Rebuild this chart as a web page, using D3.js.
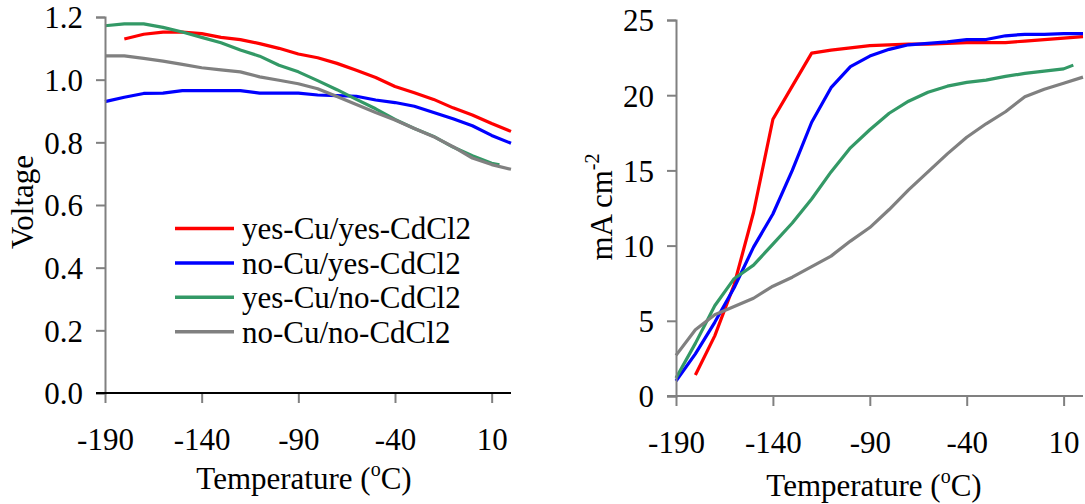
<!DOCTYPE html>
<html><head><meta charset="utf-8">
<script src="https://cdn.jsdelivr.net/npm/d3@7/dist/d3.min.js"></script>
<style>body{margin:0;background:#fff}svg{display:block}svg text{font-family:"Liberation Serif","Times New Roman",serif !important;fill:#000}</style>
</head><body><svg id="c" width="1085" height="504"></svg>
<script>
// ---- data ----
const seriesNames = ["yes-Cu/yes-CdCl2","no-Cu/yes-CdCl2","yes-Cu/no-CdCl2","no-Cu/no-CdCl2"];
const seriesColors = ["#FF0000","#0000FF","#339966","#808080"];
const xTicks = [-190,-140,-90,-40,10];
const vTicks = [0,0.2,0.4,0.6,0.8,1.0,1.2];
const jTicks = [0,5,10,15,20,25];

// Voltage vs temperature
const tRedV   = [-180,-170,-160,-150,-140,-130,-120,-110,-100,-90,-80,-70,-60,-50,-40,-30,-20,-10,0,10,20];
const vRed    = [1.130,1.145,1.152,1.152,1.147,1.135,1.128,1.115,1.100,1.082,1.070,1.052,1.030,1.007,0.978,0.958,0.937,0.910,0.887,0.860,0.835];
const tBlueV  = [-190,-180,-170,-160,-150,-140,-130,-120,-110,-100,-90,-80,-70,-60,-50,-40,-30,-20,-10,0,10,20];
const vBlue   = [0.930,0.944,0.956,0.957,0.965,0.965,0.965,0.965,0.957,0.957,0.957,0.951,0.949,0.947,0.935,0.927,0.915,0.895,0.875,0.853,0.822,0.797];
const tGreenV = [-190,-180,-170,-160,-150,-140,-130,-120,-110,-100,-90,-80,-70,-60,-50,-40,-30,-20,-10,0,10,14];
const vGreen  = [1.172,1.178,1.178,1.167,1.152,1.135,1.118,1.095,1.075,1.046,1.025,0.997,0.968,0.937,0.907,0.873,0.844,0.819,0.785,0.757,0.733,0.728];
const tGrayV  = [-190,-180,-170,-160,-150,-140,-130,-120,-110,-100,-90,-80,-70,-60,-50,-40,-30,-20,-10,0,10,20];
const vGray   = [1.076,1.076,1.068,1.059,1.049,1.038,1.031,1.025,1.009,0.998,0.987,0.971,0.946,0.921,0.895,0.871,0.844,0.818,0.786,0.750,0.729,0.714];

// Current density vs temperature
const tRedJ   = [-180,-170,-160,-150,-140,-130,-120,-110,-100,-90,-80,-70,-60,-50,-40,-30,-20,-10,0,10,20];
const jRed    = [1.4,4.0,7.4,12.2,18.4,20.6,22.8,23.0,23.15,23.3,23.35,23.4,23.4,23.45,23.5,23.5,23.5,23.6,23.7,23.8,23.9];
const tBlueJ  = [-190,-180,-170,-160,-150,-140,-130,-120,-110,-100,-90,-80,-70,-60,-50,-40,-30,-20,-10,0,10,20];
const jBlue   = [1.0,2.8,4.9,7.2,9.9,12.1,15.0,18.2,20.5,21.9,22.6,23.05,23.35,23.45,23.55,23.7,23.7,23.95,24.05,24.05,24.1,24.1];
const tGreenJ = [-190,-180,-170,-160,-150,-140,-130,-120,-110,-100,-90,-80,-70,-60,-50,-40,-30,-20,-10,0,10,15];
const jGreen  = [1.2,3.5,6.0,7.8,8.7,10.1,11.5,13.1,14.9,16.5,17.7,18.8,19.6,20.2,20.6,20.85,21.0,21.25,21.45,21.6,21.75,22.0];
const tGrayJ  = [-190,-180,-170,-160,-150,-140,-130,-120,-110,-100,-90,-80,-70,-60,-50,-40,-30,-20,-10,0,10,20];
const jGray   = [2.7,4.4,5.4,5.95,6.5,7.3,7.9,8.6,9.3,10.3,11.2,12.4,13.7,14.9,16.1,17.2,18.1,18.9,19.9,20.4,20.8,21.2];

const svg = d3.select("#c");
const FS = 31, FF = "Liberation Serif";

function panel(o){
  const g = svg.append("g");
  const x = d3.scaleLinear().domain([-190,20]).range(o.xr);
  const y = d3.scaleLinear().domain(o.yd).range(o.yr);
  const line = d3.line().x(d=>x(d[0])).y(d=>y(d[1]));
  o.series.forEach((s,i)=>{
    g.append("path").datum(d3.zip(s[0],s[1])).attr("d",line)
     .attr("fill","none").attr("stroke",seriesColors[i]).attr("stroke-width",3.2)
     .attr("stroke-linejoin","round");
  });
  const ya = g.append("g").attr("transform",`translate(${o.xr[0]},0)`)
    .call(d3.axisLeft(y).tickValues(o.yTicks).tickSize(9).tickPadding(13).tickFormat(o.yFmt));
  ya.attr("font-family",FF);
  ya.select(".domain").attr("stroke","#808080").attr("stroke-width",2);
  ya.selectAll(".tick line").attr("stroke","#808080").attr("stroke-width",2);
  ya.selectAll(".tick text").attr("font-size",FS).attr("font-family",FF).attr("dy","0.35em");
  const xa = g.append("g").attr("transform",`translate(0,${o.yr[0]})`)
    .call(d3.axisBottom(x).tickValues(xTicks).tickSize(10).tickPadding(25).tickFormat(d=>String(d)));
  xa.attr("font-family",FF);
  xa.select(".domain").remove();
  xa.append("line").attr("x1",o.xr[0]-9).attr("x2",o.xr[1]).attr("y1",0).attr("y2",0)
    .attr("stroke",o.xAxisColor).attr("stroke-width",2);
  xa.selectAll(".tick line").attr("stroke","#808080").attr("stroke-width",2);
  xa.selectAll(".tick text").attr("font-size",FS).attr("font-family",FF);
  const xt = g.append("text").attr("x",o.xTitleX).attr("y",o.xTitleY)
    .attr("text-anchor","middle").attr("font-size",FS).attr("font-family",FF);
  xt.append("tspan").text("Temperature (");
  xt.append("tspan").text("o").attr("font-size",20).attr("dy",-13);
  xt.append("tspan").text("C)").attr("dy",13);
  return {g,x,y};
}

panel({xr:[105,511], yd:[0,1.2], yr:[393,17], yTicks:vTicks, yFmt:d3.format(".1f"),
  xAxisColor:"#000", xTitleX:304, xTitleY:489,
  series:[[tRedV,vRed],[tBlueV,vBlue],[tGreenV,vGreen],[tGrayV,vGray]]});
panel({xr:[676,1083], yd:[0,25], yr:[396,20], yTicks:jTicks, yFmt:d=>String(d),
  xAxisColor:"#808080", xTitleX:874, xTitleY:496,
  series:[[tRedJ,jRed],[tBlueJ,jBlue],[tGreenJ,jGreen],[tGrayJ,jGray]]});

svg.append("text").attr("transform","translate(33,202) rotate(-90)").attr("text-anchor","middle")
  .attr("font-size",FS).attr("font-family",FF).text("Voltage");
const yt = svg.append("text").attr("transform","translate(612,207) rotate(-90)").attr("text-anchor","middle")
  .attr("font-size",FS).attr("font-family",FF);
yt.append("tspan").text("mA cm");
yt.append("tspan").text("-2").attr("font-size",20).attr("dy",-13);

const lg = svg.append("g");
seriesNames.forEach((n,i)=>{
  const yy = 228.5 + i*34.4;
  lg.append("line").attr("x1",175).attr("x2",234).attr("y1",yy).attr("y2",yy)
    .attr("stroke",seriesColors[i]).attr("stroke-width",3.5);
  lg.append("text").attr("x",242).attr("y",yy).attr("dy","0.35em").attr("font-size",FS)
    .attr("font-family",FF).text(n);
});
</script></body></html>
